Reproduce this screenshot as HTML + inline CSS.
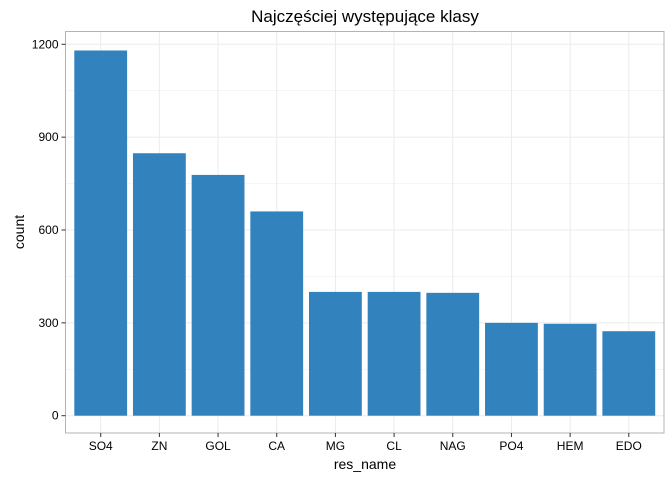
<!DOCTYPE html>
<html><head><meta charset="utf-8"><style>
html,body{margin:0;padding:0;background:#fff;width:672px;height:480px;overflow:hidden}
text{font-family:"Liberation Sans",sans-serif}
</style></head><body>
<svg id="chart" width="672" height="480">
<text x="365" y="22" text-anchor="middle" font-size="17" fill="#000">Najczęściej występujące klasy</text>
<g id="grid"></g>
<g id="bars"></g>
<rect x="65.5" y="31.5" width="598.5" height="401.5" fill="none" stroke="#b3b3b3" stroke-width="1"/>
<g id="axes"></g>
<text x="365" y="469" text-anchor="middle" font-size="14">res_name</text>
<text transform="translate(24,232) rotate(-90)" text-anchor="middle" font-size="14">count</text>
</svg>
<script>
const categories=["SO4","ZN","GOL","CA","MG","CL","NAG","PO4","HEM","EDO"];
const counts=[1180,848,778,660,400,400,397,300,297,273];
const yTicks=[0,300,600,900,1200];
const NS="http://www.w3.org/2000/svg";
const L=65.5,R=664,T=31.5,B=433;
const y0=415.7,y1200=44.3;
function y(v){return y0-(y0-y1200)*v/1200;}
const step=(R-L)/(categories.length+0.2);
function x(i){return L+step*(0.6+i);}
function mk(tag,attrs,parent){const e=document.createElementNS(NS,tag);for(const k in attrs)e.setAttribute(k,attrs[k]);parent.appendChild(e);return e;}
const grid=document.getElementById('grid'),bars=document.getElementById('bars'),axes=document.getElementById('axes');
for(let v=-150;v<=1350;v+=150){const yy=y(v);if(yy<T||yy>B)continue;
 const g=mk('line',{x1:L,x2:R,y1:yy,y2:yy,stroke:'#ebebeb','stroke-width':v%300===0?1:0.5},grid);
 
 }
categories.forEach((c,i)=>{const g=mk('line',{x1:x(i),x2:x(i),y1:T,y2:B,stroke:'#ebebeb','stroke-width':1},grid);
 
 });
categories.forEach((c,i)=>{const w=step*0.9;
 const r=mk('rect',{x:x(i)-w/2,y:y(counts[i]),width:w,height:y(0)-y(counts[i]),fill:'#3182bd'},bars);
 
 
 const t=mk('line',{x1:x(i),x2:x(i),y1:B,y2:B+4,stroke:'#333'},axes);
 
 
 const l=mk('text',{x:x(i),y:B+17,'text-anchor':'middle','font-size':12,fill:'#000'},axes);l.textContent=c;
 
 });
yTicks.forEach(v=>{const t=mk('line',{x1:L-4,x2:L,y1:y(v),y2:y(v),stroke:'#333'},axes);
 
 
 const l=mk('text',{x:L-7,y:y(v)+4,'text-anchor':'end','font-size':12,fill:'#000'},axes);l.textContent=v;
 
 });
</script>
</body></html>
